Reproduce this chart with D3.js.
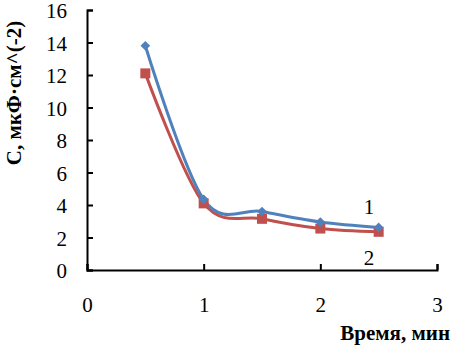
<!DOCTYPE html>
<html><head><meta charset="utf-8">
<script src="https://cdn.jsdelivr.net/npm/d3@7"></script>
</head><body style="margin:0;background:#fff">
<script>
const xValues = [0.5, 1, 1.5, 2, 2.5];
const series1 = [13.8, 4.35, 3.6, 2.95, 2.62];
const series2 = [12.1, 4.1, 3.15, 2.55, 2.35];
const seriesNames = ["1", "2"];
const xTicks = [0, 1, 2, 3];
const yTicks = [0, 2, 4, 6, 8, 10, 12, 14, 16];
const xTitle = "Время, мин";
const yTitle = "С, мкФ·см^(-2)";

const W = 453, H = 345;
const FONT = "Tinos";
const svg = d3.select("body").append("svg").attr("width", W).attr("height", H).style("display", "block");
const x = d3.scaleLinear().domain([0, 3]).range([87, 437]);
const y = d3.scaleLinear().domain([0, 16]).range([270, 10]);

const xAxis = svg.append("g").attr("transform", "translate(0,270)")
  .call(d3.axisBottom(x).tickValues(xTicks).tickSize(-6).tickPadding(14).tickFormat(d3.format("d")));
const yAxis = svg.append("g").attr("transform", "translate(87,0)")
  .call(d3.axisLeft(y).tickValues(yTicks).tickSize(-6).tickPadding(20).tickFormat(d3.format("d")));
[xAxis, yAxis].forEach(a => {
  a.attr("font-family", FONT).attr("font-size", 21);
  a.select(".domain").attr("stroke", "#000").attr("stroke-width", 2);
  a.selectAll(".tick line").attr("stroke", "#000").attr("stroke-width", 2);
  a.selectAll(".tick text").attr("fill", "#000");
});
xAxis.selectAll(".tick text").attr("dy", "0.71em").attr("y", 27);
yAxis.selectAll(".tick text").attr("dy", "0.36em");

const line = d3.line().x(d => x(d[0])).y(d => y(d[1])).curve(d3.curveCardinal.tension(0));
const data1 = xValues.map((v, i) => [v, series1[i]]);
const data2 = xValues.map((v, i) => [v, series2[i]]);

svg.append("path").datum(data2).attr("d", line).attr("fill", "none").attr("stroke", "#C0504D").attr("stroke-width", 3);
svg.append("path").datum(data1).attr("d", line).attr("fill", "none").attr("stroke", "#4F81BD").attr("stroke-width", 3);

svg.selectAll(".sq").data(data2).enter().append("rect")
  .attr("x", d => x(d[0]) - 5).attr("y", d => y(d[1]) - 5).attr("width", 10).attr("height", 10)
  .attr("fill", "#C0504D");
svg.selectAll(".dm").data(data1).enter().append("path")
  .attr("d", d3.symbol().type(d3.symbolDiamond2).size(60))
  .attr("transform", d => `translate(${x(d[0])},${y(d[1])})`).attr("fill", "#4F81BD");

const labels = svg.append("g").attr("font-family", FONT).attr("font-size", 21);
labels.append("text").attr("x", 369).attr("y", 214).attr("text-anchor", "middle").text(seriesNames[0]);
labels.append("text").attr("x", 369).attr("y", 265).attr("text-anchor", "middle").text(seriesNames[1]);
labels.append("text").attr("x", 450).attr("y", 340).attr("text-anchor", "end")
  .attr("font-weight", "bold").text(xTitle);
labels.append("text").attr("transform", "translate(21,93) rotate(-90)").attr("text-anchor", "middle")
  .attr("font-weight", "bold").text(yTitle);
</script>
</body></html>
